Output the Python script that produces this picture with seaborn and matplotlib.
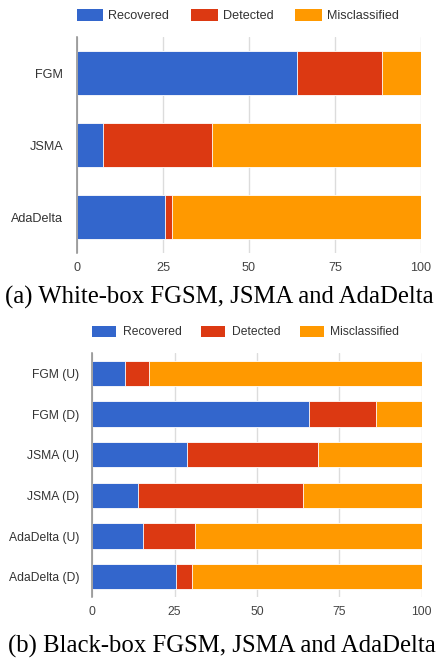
import matplotlib
matplotlib.use("Agg")
import matplotlib.pyplot as plt
import seaborn as sns
import pandas as pd
import numpy as np

# White-box results (percent of adversarial samples)
wb_attacks = ["FGM", "JSMA", "AdaDelta"]
wb_recovered = [63.9, 7.6, 25.5]
wb_detected = [24.8, 31.7, 2.0]
wb_misclassified = [11.3, 60.7, 72.5]

# Black-box results: untargeted (U) / targeted (D)
bb_attacks = ["FGM (U)", "FGM (D)", "JSMA (U)", "JSMA (D)", "AdaDelta (U)", "AdaDelta (D)"]
bb_recovered = [10.0, 65.9, 28.8, 13.9, 15.5, 25.4]
bb_detected = [7.3, 20.1, 39.8, 50.2, 15.8, 4.9]
bb_misclassified = [82.7, 14.0, 31.4, 35.9, 68.7, 69.7]

outcomes = ["Recovered", "Detected", "Misclassified"]
ticks = [0, 25, 50, 75, 100]
colors = {"Recovered": "#3366CC", "Detected": "#DC3912", "Misclassified": "#FF9900"}

sns.set_theme(style="white")
plt.rcParams["font.family"] = ["Liberation Sans", "DejaVu Sans"]

W, H = 439, 658
fig = plt.figure(figsize=(W / 100, H / 100), dpi=100)


def px_axes(left, top, right, bottom):
    return fig.add_axes([left / W, (H - bottom) / H, (right - left) / W, (bottom - top) / H])


def stacked(ax, attacks, rec, det, mis, fs, ylpad):
    df = pd.DataFrame({"attack": attacks, "Recovered": rec, "Detected": det, "Misclassified": mis})
    df["cum_det"] = df["Recovered"] + df["Detected"]
    df["cum_mis"] = df["cum_det"] + df["Misclassified"]
    # cumulative bars drawn from the longest to the shortest
    for col, name in [("cum_mis", "Misclassified"), ("cum_det", "Detected"), ("Recovered", "Recovered")]:
        sns.barplot(data=df, x=col, y="attack", color=colors[name], width=0.615,
                    edgecolor="white", linewidth=0.6, saturation=1, ax=ax, label=name)
    ax.set_xlim(0, 100)
    ax.set_xticks(ticks)
    ax.set_xlabel("")
    ax.set_ylabel("")
    ax.set_axisbelow(True)
    ax.xaxis.grid(True, color="#dcdcdc", linewidth=1)
    for s in ["top", "right", "bottom"]:
        ax.spines[s].set_visible(False)
    ax.spines["left"].set_color("#8a8a8a")
    ax.spines["left"].set_linewidth(1.1)
    ax.tick_params(axis="both", length=0, labelsize=fs)
    ax.tick_params(axis="x", pad=6.5, labelcolor="#444444")
    ax.tick_params(axis="y", pad=ylpad, labelcolor="#333333")
    if ax.get_legend() is not None:
        ax.get_legend().remove()


def legend(ax, x, y, fs, hl, hh, tp, cs):
    handles, labels = ax.get_legend_handles_labels()
    order = [labels.index(o) for o in outcomes]
    leg = fig.legend([handles[i] for i in order], [labels[i] for i in order],
                     loc="center left", bbox_to_anchor=(x / W, (H - y) / H), ncol=3,
                     frameon=False, fontsize=fs, handlelength=hl, handleheight=hh,
                     handletextpad=tp, columnspacing=cs, borderpad=0, borderaxespad=0)
    for t in leg.get_texts():
        t.set_color("#333333")
    for p in leg.get_patches():
        p.set_edgecolor("none")


ax1 = px_axes(77, 37, 421, 253)
stacked(ax1, wb_attacks, wb_recovered, wb_detected, wb_misclassified, 9.1, 10)
legend(ax1, 77, 15.5, 9.1, 2.08, 1.04, 0.4, 1.75)

ax2 = px_axes(92.3, 353, 421.7, 597)
stacked(ax2, bb_attacks, bb_recovered, bb_detected, bb_misclassified, 8.7, 9.4)
legend(ax2, 92.3, 332, 8.7, 2.0, 1.0, 0.5, 1.65)

fig.text(219, H - 297, "(a) White-box FGSM, JSMA and AdaDelta", ha="center", va="center",
         fontsize=17.8, family=["Liberation Serif", "DejaVu Serif"], color="black",
         transform=None)
fig.text(222, H - 646, "(b) Black-box FGSM, JSMA and AdaDelta", ha="center", va="center",
         fontsize=17.8, family=["Liberation Serif", "DejaVu Serif"], color="black",
         transform=None)

fig.savefig("out.png", dpi=100)
